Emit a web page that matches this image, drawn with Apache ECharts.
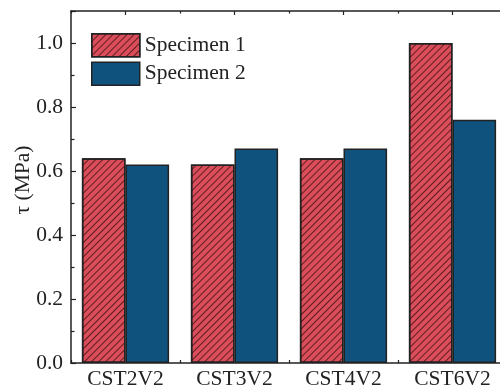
<!DOCTYPE html>
<html>
<head>
<meta charset="utf-8">
<script src="https://cdn.jsdelivr.net/npm/echarts@6/dist/echarts.min.js"></script>
<style>
  html, body { margin: 0; padding: 0; background: #fff; }
  #chart { width: 500px; height: 389px; }
</style>
</head>
<body>
<div id="chart"></div>
<script>
const categories = ['CST2V2', 'CST3V2', 'CST4V2', 'CST6V2'];
const specimen1 = [0.64, 0.62, 0.64, 1.0];
const specimen2 = [0.62, 0.67, 0.67, 0.76];
const yTicks = [0, 0.2, 0.4, 0.6, 0.8, 1.0];

const ink = '#222';
const font = 'Liberation Serif';
const fs = 21.5;

const chart = echarts.init(document.getElementById('chart'));

// top axis: two copies, one with ticks at centres, one at boundaries
const topAxis = (center, len) => ({
  type: 'category',
  data: categories,
  position: 'top',
  gridIndex: 0,
  axisLine: { show: center, lineStyle: { color: ink, width: 1.5 } },
  axisTick: { show: true, inside: true, length: len, alignWithLabel: center, lineStyle: { color: ink, width: 1.2 } },
  axisLabel: { show: false },
  splitLine: { show: false }
});

chart.setOption({
  animation: false,
  grid: { left: 71, top: 11, right: -7, bottom: 26, containLabel: false, outerBoundsMode: 'none' },
  legend: {
    data: ['Specimen 1', 'Specimen 2'],
    icon: 'rect',
    orient: 'vertical',
    left: 86,
    top: 28,
    itemWidth: 48,
    itemHeight: 23,
    itemGap: 4,
    textStyle: { fontFamily: font, fontSize: fs, color: ink },
    itemStyle: { borderColor: ink, borderWidth: 1.5 }
  },
  xAxis: [
    {
      type: 'category',
      data: categories,
      position: 'bottom',
      axisLine: { lineStyle: { color: ink, width: 1.5 } },
      axisTick: { show: true, inside: true, length: 3, lineStyle: { color: ink, width: 1.2 } },
      axisLabel: { fontFamily: font, fontSize: fs, color: ink, margin: 5 },
      splitLine: { show: false }
    },
    topAxis(true, 4),
    topAxis(false, 2.5)
  ],
  yAxis: {
    type: 'value',
    min: 0,
    max: 1.1,
    interval: 0.2,
    name: 'τ (MPa)',
    nameLocation: 'middle',
    nameGap: 37,
    nameMoveOverlap: false,
    nameTextStyle: { fontFamily: font, fontSize: fs, color: ink, padding: [0, 0, 0, 14] },
    axisLine: { show: true, lineStyle: { color: ink, width: 1.5 } },
    axisTick: { show: true, inside: true, length: 5, lineStyle: { color: ink, width: 1.2 } },
    minorTick: { show: true, splitNumber: 2, length: 3.5, lineStyle: { color: ink, width: 1.2 } },
    axisLabel: {
      fontFamily: font, fontSize: fs, color: ink, margin: 8,
      showMaxLabel: false,
      formatter: v => yTicks.some(t => Math.abs(t - v) < 1e-6) ? v.toFixed(1) : ''
    },
    splitLine: { show: false }
  },
  series: [
    {
      name: 'Specimen 1',
      type: 'bar',
      data: specimen1,
      barGap: '0%',
      barCategoryGap: '20%',
      itemStyle: {
        color: '#D94E5A',
        borderColor: ink,
        borderWidth: 1.5,
        decal: {
          symbol: 'rect',
          symbolSize: 1,
          dashArrayX: [1, 0],
          dashArrayY: [1, 3.6],
          rotation: -Math.PI / 4,
          color: 'rgba(30,0,0,0.65)'
        }
      }
    },
    {
      name: 'Specimen 2',
      type: 'bar',
      data: specimen2,
      itemStyle: { color: '#10527E', borderColor: ink, borderWidth: 1.5 }
    }
  ]
});
</script>
</body>
</html>
